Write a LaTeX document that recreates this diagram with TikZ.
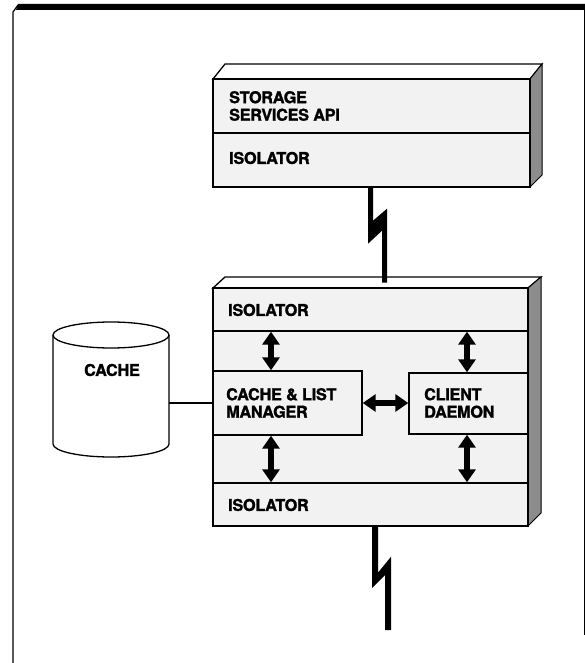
\documentclass[tikz,border=0pt]{standalone}
\usepackage{fontspec}
\setmainfont{TeX Gyre Heros}
\newfontfamily\heavy{TeX Gyre Heros}[BoldFeatures={FakeBold=1.6}, LetterSpace=-1.5]
\usetikzlibrary{arrows.meta,calc}

\begin{document}
\begin{tikzpicture}[x=1pt,y=-1pt,
  lbl/.style={font=\heavy\bfseries\fontsize{16.2}{17.5}\selectfont, align=left, anchor=west, inner sep=0pt},
  edge/.style={line width=1.3pt},
  face/.style={fill=black!5, draw=black, line width=1.4pt},
  topface/.style={fill=white, draw=black, line width=1.3pt},
  sideface/.style={fill=black!45, draw=black, line width=1pt},
  layer/.style={draw=black, line width=1.4pt, inner sep=0pt},
  inbox/.style={draw=black, line width=1.4pt, fill=black!5, inner sep=0pt},
  dbl/.style={line width=5.5pt, {Triangle[width=17pt,length=13pt]}-{Triangle[width=17pt,length=13pt]}},
  bolt/.style={fill=black},
]
\useasboundingbox (0,0) rectangle (585,663);

% page frame
\fill (18,4) -- (585,4) -- (585,10) -- (16,10) -- cycle;
\draw[line width=1.2pt] (18,5) -- (13,12) -- (13,663);
\draw[line width=1pt] (584,10) -- (584,635);

% storage services block
\draw[topface] (213,79) -- (225,64) -- (542,64) -- (530,79) -- cycle;
\draw[sideface] (530,79) -- (542,64) -- (542,175) -- (530,187) -- cycle;
\node[face, minimum width=317pt, minimum height=54pt, inner sep=0pt] (api) at (371.5,106) {};
\node[face, minimum width=317pt, minimum height=54pt, inner sep=0pt] (isoT) at (371.5,160) {};
\node[lbl] at (229,106) {STORAGE\\SERVICES API};
\node[lbl] at (229,158) {ISOLATOR};

% client block
\draw[topface] (213,288) -- (225,277) -- (541,277) -- (528,288) -- cycle;
\draw[sideface] (528,288) -- (541,277) -- (541,513) -- (528,526) -- cycle;
\node[face, minimum width=315pt, minimum height=238pt, inner sep=0pt] (mid) at (370.5,407) {};
\node[layer, minimum width=315pt, minimum height=43pt] (isoA) at (370.5,309.5) {};
\node[layer, minimum width=315pt, minimum height=43pt] (isoB) at (370.5,504.5) {};
\node[lbl] at (228,310) {ISOLATOR};
\node[lbl] at (228,505) {ISOLATOR};

\node[inbox, minimum width=149pt, minimum height=64pt] (clm) at (287.5,403) {};
\node[lbl] at (226,403) {CACHE \& LIST\\MANAGER};
\node[inbox, minimum width=119pt, minimum height=61pt] (cd) at (468.5,403.5) {};
\node[lbl] at (424,403) {CLIENT\\DAEMON};

% data paths inside the client block
\coordinate (xl) at (271,0);
\coordinate (xr) at (467,0);
\draw[dbl] (isoA.south -| xl) -- (clm.north -| xl);
\draw[dbl] (isoA.south -| xr) -- (cd.north -| xr);
\draw[dbl] (clm.south -| xl) -- (isoB.north -| xl);
\draw[dbl] (cd.south -| xr) -- (isoB.north -| xr);
\draw[dbl] (clm.east) -- (clm.east -| cd.west);

% cache store
\draw[edge, fill=white] (53,335) -- (53,444)
  arc[start angle=180, end angle=360, x radius=58pt, y radius=13pt]
  -- (169,335)
  arc[start angle=0, end angle=180, x radius=58pt, y radius=13pt] -- cycle;
\draw[edge] (53,335) arc[start angle=180, end angle=360, x radius=58pt, y radius=13pt];
\node[inner sep=0pt, minimum width=116pt, minimum height=135pt] (cache) at (111,390) {};
\node[lbl, anchor=center] at (112,370) {CACHE};
\draw[edge] (clm.west -| cache.east) -- (clm.west);

% network links
\fill[bolt] ($(isoT.south)+(-3.5,0)$) -- ++(5,0) -- ++(0,33) -- ++(14,-12) -- ++(0,74)
  -- ++(-5,0) -- ++(0,-52) -- ++(-14,13) -- cycle;
\coordinate (lend) at (388,630);
\fill[bolt] ($(isoB.south)+(1.5,0)$) -- ++(6,0) -- ++(0,46) -- ++(13,-16)
  -- ($(lend)+(3,0)$) -- ($(lend)+(-3,0)$) -- ++(0,-55) -- ++(-13,13) -- cycle;
\end{tikzpicture}
\end{document}
